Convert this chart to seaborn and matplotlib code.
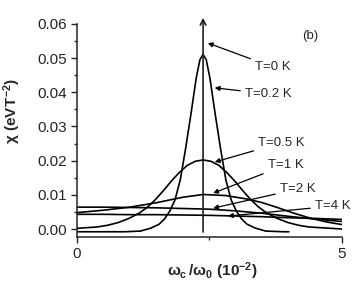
import numpy as np
import pandas as pd
import matplotlib
matplotlib.use('Agg')
import matplotlib.pyplot as plt
import seaborn as sns
from matplotlib.ticker import MultipleLocator

# valeurs (x en 10^-2, chi en eV T^-2)
x_02 = [0.0, 0.9, 1.2, 1.4, 1.55, 1.65, 1.75, 1.85, 1.95, 2.05, 2.15, 2.25, 2.32, 2.38,
        2.44, 2.51, 2.61, 2.71, 2.81, 2.91, 3.01, 3.11, 3.21, 3.36, 3.56, 3.9, 4.0]
chi_02 = [-0.0008, -0.0008, -0.0006, 0.0003, 0.0014, 0.0029, 0.0052, 0.0085, 0.0144,
          0.0235, 0.0335, 0.0441, 0.0495, 0.0511, 0.0495, 0.0441, 0.0335, 0.0235, 0.0144,
          0.0085, 0.0052, 0.0029, 0.0014, 0.0003, -0.0006, -0.0008, -0.0008]

x_05 = [0.0, 0.38, 0.58, 0.78, 0.98, 1.18, 1.33, 1.48, 1.63, 1.78, 1.93, 2.08, 2.23, 2.38,
        2.53, 2.68, 2.83, 2.98, 3.13, 3.28, 3.43, 3.58, 3.78, 3.98, 4.18, 4.38, 5.0]
chi_05 = [0.0002, 0.0006, 0.0011, 0.0019, 0.0031, 0.0047, 0.0064, 0.0086, 0.0112, 0.0140,
          0.0165, 0.0186, 0.0198, 0.0202, 0.0198, 0.0186, 0.0165, 0.0140, 0.0112, 0.0086,
          0.0064, 0.0047, 0.0031, 0.0019, 0.0011, 0.0006, 0.0]

x_1 = [0.0, 0.5, 1.0, 1.5, 2.0, 2.38, 2.8, 3.2, 3.5, 3.8, 4.1, 4.4, 4.7, 5.0]
chi_1 = [0.0048, 0.0055, 0.0064, 0.0077, 0.0093, 0.0101, 0.0098, 0.0088, 0.0077, 0.0062,
         0.0046, 0.0032, 0.0021, 0.0013]

x_2 = [0.0, 0.5, 1.0, 1.5, 2.0, 2.5, 3.0, 3.5, 4.0, 4.5, 5.0]
chi_2 = [0.0064, 0.0064, 0.0063, 0.0062, 0.0060, 0.0058, 0.0053, 0.0046, 0.0037, 0.0029, 0.0022]

x_4 = [0.0, 0.5, 1.0, 1.5, 2.0, 2.5, 3.0, 3.5, 4.0, 4.5, 5.0]
chi_4 = [0.0043, 0.0043, 0.0042, 0.0042, 0.0041, 0.0040, 0.0038, 0.0036, 0.0033, 0.0031, 0.0028]

x_peak = 2.38
T_labels = ['T=0 K', 'T=0.2 K', 'T=0.5 K', 'T=1 K', 'T=2 K', 'T=4 K']
label_xy = [(3.36, 0.0474), (3.17, 0.0395), (3.42, 0.0252), (3.6, 0.0187), (3.83, 0.0117), (4.49, 0.0067)]
tip_xy = [(2.47, 0.0544), (2.60, 0.0413), (2.60, 0.0196), (2.57, 0.0105), (2.57, 0.0061), (2.85, 0.0038)]

df = pd.concat([
    pd.DataFrame({'x': x_02, 'chi': chi_02, 'T': '0.2'}),
    pd.DataFrame({'x': x_05, 'chi': chi_05, 'T': '0.5'}),
    pd.DataFrame({'x': x_1, 'chi': chi_1, 'T': '1'}),
    pd.DataFrame({'x': x_2, 'chi': chi_2, 'T': '2'}),
    pd.DataFrame({'x': x_4, 'chi': chi_4, 'T': '4'}),
])

sns.set_style('ticks')
plt.rcParams['font.family'] = ['Liberation Sans', 'DejaVu Sans']
plt.rcParams['mathtext.fontset'] = 'custom'
plt.rcParams['mathtext.rm'] = 'Liberation Sans:bold'
plt.rcParams['mathtext.it'] = 'Liberation Sans:bold'
plt.rcParams['mathtext.bf'] = 'Liberation Sans:bold'

fig = plt.figure(figsize=(3.58, 2.81), dpi=100)
ax = fig.add_axes([0.215, 0.157, 0.740, 0.758])

sns.lineplot(data=df, x='x', y='chi', units='T', estimator=None, sort=False,
             color='black', lw=1.2, ax=ax, legend=False)

# T=0 : fonction delta -> fleche verticale
ax.annotate('', xy=(x_peak, 0.0618), xytext=(x_peak, -0.0009),
            arrowprops=dict(arrowstyle='->', color='#222222', lw=1.2,
                            mutation_scale=10, shrinkA=0, shrinkB=0),
            annotation_clip=False)

for lab, (tx, ty), (px, py) in zip(T_labels, label_xy, tip_xy):
    ax.annotate(lab, xy=(px, py), xytext=(tx, ty), fontsize=9.5, va='center', ha='left',
                arrowprops=dict(arrowstyle='-|>', color='black', lw=0.9,
                                mutation_scale=7, shrinkA=1, shrinkB=0))

ax.text(4.4, 0.0565, '(b)', fontsize=9.5, ha='center', va='center')

ax.set_xlim(0, 5)
ax.set_ylim(-0.0023, 0.06)
ax.set_xticks([0, 5])
ax.xaxis.set_minor_locator(MultipleLocator(2.5))
ax.yaxis.set_major_locator(MultipleLocator(0.01))
ax.yaxis.set_minor_locator(MultipleLocator(0.005))
ax.set_yticks([0, 0.01, 0.02, 0.03, 0.04, 0.05, 0.06])
ax.set_yticklabels(['0.00', '0.01', '0.02', '0.03', '0.04', '0.05', '0.06'])
ax.tick_params(axis='both', which='major', labelsize=11, length=4, width=1)
ax.tick_params(axis='both', which='minor', length=2.5, width=1)
for s in ['left', 'bottom']:
    ax.spines[s].set_linewidth(1.1)
sns.despine(ax=ax)

ax.set_xlabel(r'$\omega_c\,/\omega_0\ (10^{-2})$', fontsize=11)
ax.set_ylabel(r'$\chi\ (eVT^{-2})$', fontsize=11)
ax.xaxis.set_label_coords(0.51, -0.11)
ax.yaxis.set_label_coords(-0.205, 0.59)

fig.savefig('out.png', dpi=100)
